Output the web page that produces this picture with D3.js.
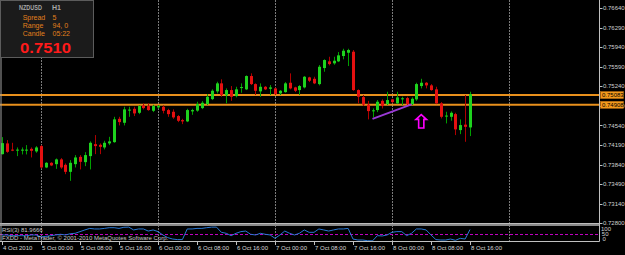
<!DOCTYPE html>
<html lang="en">
<head>
  <meta charset="UTF-8">
  <title>NZDUSD H1</title>
  <script src="https://d3js.org/d3.v7.min.js"></script>
  <style>
    body { margin: 0; background: #000; }
    svg text { font-family: "Liberation Sans", Arial, sans-serif; }
  </style>
</head>
<body>
  <svg id="chart" width="625" height="255"></svg>

  <script>
    // bars 4 Oct 16:00 .. 8 Oct 16:00, one per hour
    const barOpen = [
      0.74026,0.74218,0.74107,0.74089,0.74089,0.74089,0.74121,0.74075,0.74170,0.73788,
      0.73871,0.73847,0.73932,0.73835,0.73710,0.73847,0.73978,0.73883,0.73991,0.74205,
      0.74193,0.74146,0.74218,0.74241,0.74658,0.74587,0.74805,0.74837,0.74766,0.74898,
      0.74886,0.74802,0.74862,0.74873,0.74814,0.74784,0.74707,0.74635,0.74612,0.74791,
      0.74805,0.74850,0.74921,0.75011,0.75149,0.75292,0.75077,0.75172,0.75065,0.75208,
      0.75185,0.75423,0.75279,0.75149,0.75231,0.75195,0.75202,0.75113,0.75136,0.75303,
      0.75220,0.75172,0.75220,0.75399,0.75374,0.75279,0.75566,0.75686,0.75650,0.75686,
      0.75781,0.75840,0.75858,0.75172,0.75047,0.74912,0.74793,0.74814,0.74980,0.74921,
      0.75006,0.74934,0.75007,0.75029,0.74921,0.75006,0.75244,0.75303,0.75256,0.75185,
      0.74934,0.74698,0.74694,0.74742,0.74456,0.74554,0.74504
    ];
    const barHigh = [
      0.74331,0.74277,0.74229,0.74146,0.74146,0.74188,0.74146,0.74170,0.74188,0.73883,
      0.73883,0.73949,0.73955,0.73860,0.73919,0.74009,0.74009,0.74062,0.74254,0.74367,
      0.74218,0.74265,0.74336,0.74694,0.74694,0.74873,0.74873,0.74873,0.74898,0.74934,
      0.74934,0.74909,0.74904,0.74898,0.74837,0.74827,0.74725,0.74658,0.74837,0.74837,
      0.74963,0.74975,0.75100,0.75185,0.75321,0.75364,0.75202,0.75244,0.75231,0.75292,
      0.75435,0.75471,0.75292,0.75292,0.75244,0.75262,0.75217,0.75172,0.75315,0.75471,
      0.75231,0.75262,0.75423,0.75410,0.75410,0.75620,0.75722,0.75768,0.75768,0.75852,
      0.75911,0.75911,0.75888,0.75185,0.75083,0.74980,0.74844,0.74993,0.75006,0.75142,
      0.75016,0.75142,0.75052,0.75052,0.75041,0.75303,0.75374,0.75315,0.75279,0.75231,
      0.74957,0.74784,0.74791,0.74766,0.74648,0.75083,0.75142
    ];
    const barLow = [
      0.74020,0.74050,0.74080,0.73991,0.74021,0.74021,0.73967,0.74050,0.73770,0.73776,
      0.73812,0.73763,0.73763,0.73668,0.73549,0.73788,0.73753,0.73812,0.73753,0.74026,
      0.74026,0.74111,0.74188,0.74229,0.74540,0.74540,0.74694,0.74707,0.74742,0.74827,
      0.74802,0.74778,0.74841,0.74755,0.74694,0.74658,0.74599,0.74563,0.74599,0.74730,
      0.74784,0.74832,0.74904,0.74993,0.75113,0.75052,0.74934,0.74980,0.75041,0.75124,
      0.75172,0.75262,0.75083,0.75052,0.75172,0.75083,0.75083,0.75083,0.75124,0.75185,
      0.75136,0.75083,0.75202,0.75315,0.75279,0.75256,0.75500,0.75614,0.75625,0.75673,
      0.75722,0.75602,0.75160,0.74934,0.74886,0.74648,0.74683,0.74778,0.74844,0.74904,
      0.74939,0.74921,0.74904,0.74904,0.74904,0.74980,0.75202,0.75202,0.75160,0.74921,
      0.74665,0.74576,0.74623,0.74367,0.74384,0.74247,0.74349
    ];
    const barClose = [
      0.74223,0.74068,0.74089,0.74107,0.74107,0.74107,0.74086,0.74146,0.73788,0.73871,
      0.73824,0.73932,0.73788,0.73710,0.73871,0.73967,0.73889,0.74009,0.74229,0.74170,
      0.74157,0.74229,0.74254,0.74648,0.74599,0.74827,0.74823,0.74755,0.74886,0.74850,
      0.74814,0.74886,0.74886,0.74802,0.74742,0.74683,0.74623,0.74612,0.74814,0.74814,
      0.74921,0.74945,0.75052,0.75160,0.75292,0.75083,0.75172,0.75052,0.75185,0.75226,
      0.75423,0.75279,0.75160,0.75231,0.75185,0.75220,0.75100,0.75160,0.75292,0.75202,
      0.75160,0.75244,0.75410,0.75339,0.75292,0.75589,0.75709,0.75637,0.75697,0.75793,
      0.75876,0.75888,0.75172,0.75052,0.74912,0.74796,0.74810,0.74963,0.74886,0.74993,
      0.74957,0.75041,0.75025,0.74921,0.75016,0.75279,0.75303,0.75256,0.75172,0.74934,
      0.74694,0.74716,0.74766,0.74469,0.74546,0.74515,0.75100
    ];
    const rsiValues = [
      43,43,38,38,38,38,43,43,29,33, 38,43,48,43,52,55,67,79,90,86,
      86,90,95,95,90,98,99,79,86,86, 71,79,67,43,24,14,10,10,86,86,
      90,90,95,99,99,62,55,38,55,67, 71,48,43,55,48,43,19,43,71,55,
      43,55,79,62,62,86,79,71,79,86, 86,90,14,7,7,2,1,38,36,43,
      62,67,67,38,55,86,86,79,43,10, 7,7,14,5,19,14,82
    ];

    const timeLabels = ["4 Oct 2010","5 Oct 00:00","5 Oct 08:00","5 Oct 16:00","6 Oct 00:00","6 Oct 08:00",
      "6 Oct 16:00","7 Oct 00:00","7 Oct 08:00","7 Oct 16:00","8 Oct 00:00","8 Oct 08:00","8 Oct 16:00"];
    const timeLabelBars = [0, 8, 16, 24, 32, 40, 48, 56, 64, 72, 80, 88, 96];
    const gridBars = [8, 32, 56, 80, 104];
    const priceTicks = [0.76640, 0.76290, 0.75940, 0.75590, 0.75240, 0.74890,
      0.74540, 0.74190, 0.73840, 0.73490, 0.73140, 0.72800];
    const hLinePrices = [0.75083, 0.74908];
    const rsiTicks = [100, 50, 0];
    const rsiLevels = [50];
    const rsiLabel = "RSI(3) 81.9666";
    const trendBars = [76, 84];
    const trendPrices = [0.74658, 0.74916];
    const arrowBar = 86;
    const arrowPrice = 0.74734;
    const infoRows = [["Spread", "5"], ["Range", "94, 0"], ["Candle", "05:22"]];
    const bidText = "0.7510";

    const svg = d3.select("#chart");
    const fmt = d3.format(".5f");

    const x = d3.scaleLinear().domain([0, 96]).range([2, 470]);
    const y = d3.scaleLinear().domain([0.72800, 0.76640]).range([222.7, 8]);
    const yr = d3.scaleLinear().domain([0, 100]).range([241, 227]);
    const axisX = 599.5;

    const bars = barOpen.map((o, i) => ({ i, o, h: barHigh[i], l: barLow[i], c: barClose[i] }));

    // vertical dashed grid
    svg.append("g").selectAll("line").data(gridBars).enter().append("line")
      .attr("x1", d => Math.round(x(d)) + 0.5).attr("x2", d => Math.round(x(d)) + 0.5)
      .attr("y1", 0).attr("y2", 241)
      .attr("stroke", "#7a7a7a").attr("stroke-dasharray", "2,1");

    // horizontal lines
    const hl = svg.append("g");
    hLinePrices.forEach(p => {
      hl.append("line").attr("x1", 0).attr("x2", axisX)
        .attr("y1", y(p)).attr("y2", y(p))
        .attr("stroke", "#e8901c").attr("stroke-width", 2);
    });

    // candles
    const cg = svg.append("g");
    cg.selectAll(".wick").data(bars).enter().append("line")
      .attr("x1", d => Math.round(x(d.i)) + 0.5).attr("x2", d => Math.round(x(d.i)) + 0.5)
      .attr("y1", d => y(d.h)).attr("y2", d => y(d.l))
      .attr("stroke", d => d.c >= d.o ? "#00a000" : "#b00000");
    cg.selectAll(".body").data(bars).enter().append("rect")
      .attr("x", d => Math.round(x(d.i)) - 1)
      .attr("width", 3)
      .attr("y", d => y(Math.max(d.o, d.c)))
      .attr("height", d => Math.max(1, Math.abs(y(d.o) - y(d.c))))
      .attr("fill", d => d.c >= d.o ? "#1ed21e" : "#e41010");

    // trend line and arrow
    svg.append("line")
      .attr("x1", x(trendBars[0])).attr("y1", y(trendPrices[0]))
      .attr("x2", x(trendBars[1])).attr("y2", y(trendPrices[1]))
      .attr("stroke", "#9a3ad6").attr("stroke-width", 2);

    const ax = x(arrowBar), ay = y(arrowPrice);
    svg.append("path")
      .attr("d", `M${ax},${ay} L${ax + 5.3},${ay + 4.8} L${ax + 2.6},${ay + 4.8} L${ax + 2.6},${ay + 13.5}
        L${ax - 2.6},${ay + 13.5} L${ax - 2.6},${ay + 4.8} L${ax - 5.3},${ay + 4.8} Z`)
      .attr("fill", "none").attr("stroke", "#ff00ff").attr("stroke-width", 1.6);

    // separator between main and RSI window
    svg.append("rect").attr("x", 0).attr("y", 223).attr("width", axisX).attr("height", 3).attr("fill", "#8a8a8a");
    svg.append("line").attr("x1", 0).attr("x2", axisX).attr("y1", 223.5).attr("y2", 223.5).attr("stroke", "#bdbdbd");

    // RSI window
    rsiLevels.forEach(v => {
      svg.append("line").attr("x1", 0).attr("x2", axisX)
        .attr("y1", Math.round(yr(v)) + 0.5).attr("y2", Math.round(yr(v)) + 0.5)
        .attr("stroke", "#c000c0").attr("stroke-dasharray", "3,2");
    });
    svg.append("path")
      .datum(rsiValues)
      .attr("d", d3.line().x((d, i) => x(i)).y(d => yr(d)))
      .attr("fill", "none").attr("stroke", "#2a78d4").attr("stroke-width", 1);

    svg.append("text").attr("x", 2).attr("y", 232).attr("font-size", 6).attr("fill", "#c8c8c8").text(rsiLabel);
    svg.append("text").attr("x", 2).attr("y", 240.3).attr("font-size", 6).attr("fill", "#c8c8c8")
      .text("FXDD - MetaTrader, © 2001-2010 MetaQuotes Software Corp.");

    // frame
    svg.append("line").attr("x1", 1).attr("x2", 1).attr("y1", 0).attr("y2", 241.5).attr("stroke", "#a0a0a0");
    svg.append("line").attr("x1", axisX).attr("x2", axisX).attr("y1", 0).attr("y2", 241.5).attr("stroke", "#c0c0c0");
    svg.append("line").attr("x1", 0).attr("x2", axisX).attr("y1", 241.5).attr("y2", 241.5).attr("stroke", "#c0c0c0");

    // price axis
    const pa = svg.append("g");
    priceTicks.forEach(p => {
      pa.append("line").attr("x1", axisX).attr("x2", axisX + 3).attr("y1", Math.round(y(p)) + 0.5).attr("y2", Math.round(y(p)) + 0.5).attr("stroke", "#c0c0c0");
      pa.append("text").attr("x", 603).attr("y", y(p) + 2.2).attr("font-size", 6).attr("fill", "#d0d0d0").text(fmt(p));
    });
    hLinePrices.forEach(p => {
      pa.append("rect").attr("x", 600.5).attr("y", y(p) - 3.5).attr("width", 23).attr("height", 7)
        .attr("fill", "#f49a1c").attr("stroke", "#c07010").attr("stroke-width", 0.5);
      pa.append("text").attr("x", 602).attr("y", y(p) + 2.2).attr("font-size", 6).attr("fill", "#000").text(fmt(p));
    });
    rsiTicks.forEach((v, k) => {
      pa.append("text").attr("x", 601 + k * 0.8).attr("y", yr(v) + 2 + (k === 0 ? 1.5 : k === 2 ? -2 : 0))
        .attr("font-size", 6).attr("fill", "#d0d0d0").text(v);
    });

    // time axis
    const ta = svg.append("g");
    timeLabels.forEach((t, k) => {
      const tx = Math.round(x(timeLabelBars[k])) + 0.5;
      ta.append("line").attr("x1", tx).attr("x2", tx).attr("y1", 241.5).attr("y2", 245).attr("stroke", "#c0c0c0");
      ta.append("text").attr("x", tx + 0.5).attr("y", 249.5).attr("font-size", 6).attr("fill", "#d8d8d8").text(t);
    });

    // info box
    const info = svg.append("g");
    info.append("rect").attr("x", 0.5).attr("y", 0.5).attr("width", 93).attr("height", 57)
      .attr("fill", "#1b1b1b").attr("stroke", "#5c5c5c");
    info.append("text").attr("x", 19).attr("y", 10).attr("font-size", 7).attr("font-weight", "bold")
      .attr("fill", "#a8a8a8").attr("textLength", 23).attr("lengthAdjust", "spacingAndGlyphs").text("NZDUSD");
    info.append("text").attr("x", 52).attr("y", 10).attr("font-size", 7).attr("font-weight", "bold")
      .attr("fill", "#a8a8a8").text("H1");
    infoRows.forEach((r, k) => {
      info.append("text").attr("x", 22.7).attr("y", 20 + k * 8.1).attr("font-size", 7).attr("fill", "#e2801c").text(r[0]);
      info.append("text").attr("x", 52.5).attr("y", 20 + k * 8.1).attr("font-size", 7).attr("fill", "#e2801c").text(r[1]);
    });
    info.append("text").attr("x", 20).attr("y", 53.2).attr("font-size", 15).attr("font-weight", "bold")
      .attr("fill", "#ff1a1a").attr("textLength", 51).attr("lengthAdjust", "spacingAndGlyphs").text(bidText);
  </script>
</body>
</html>
